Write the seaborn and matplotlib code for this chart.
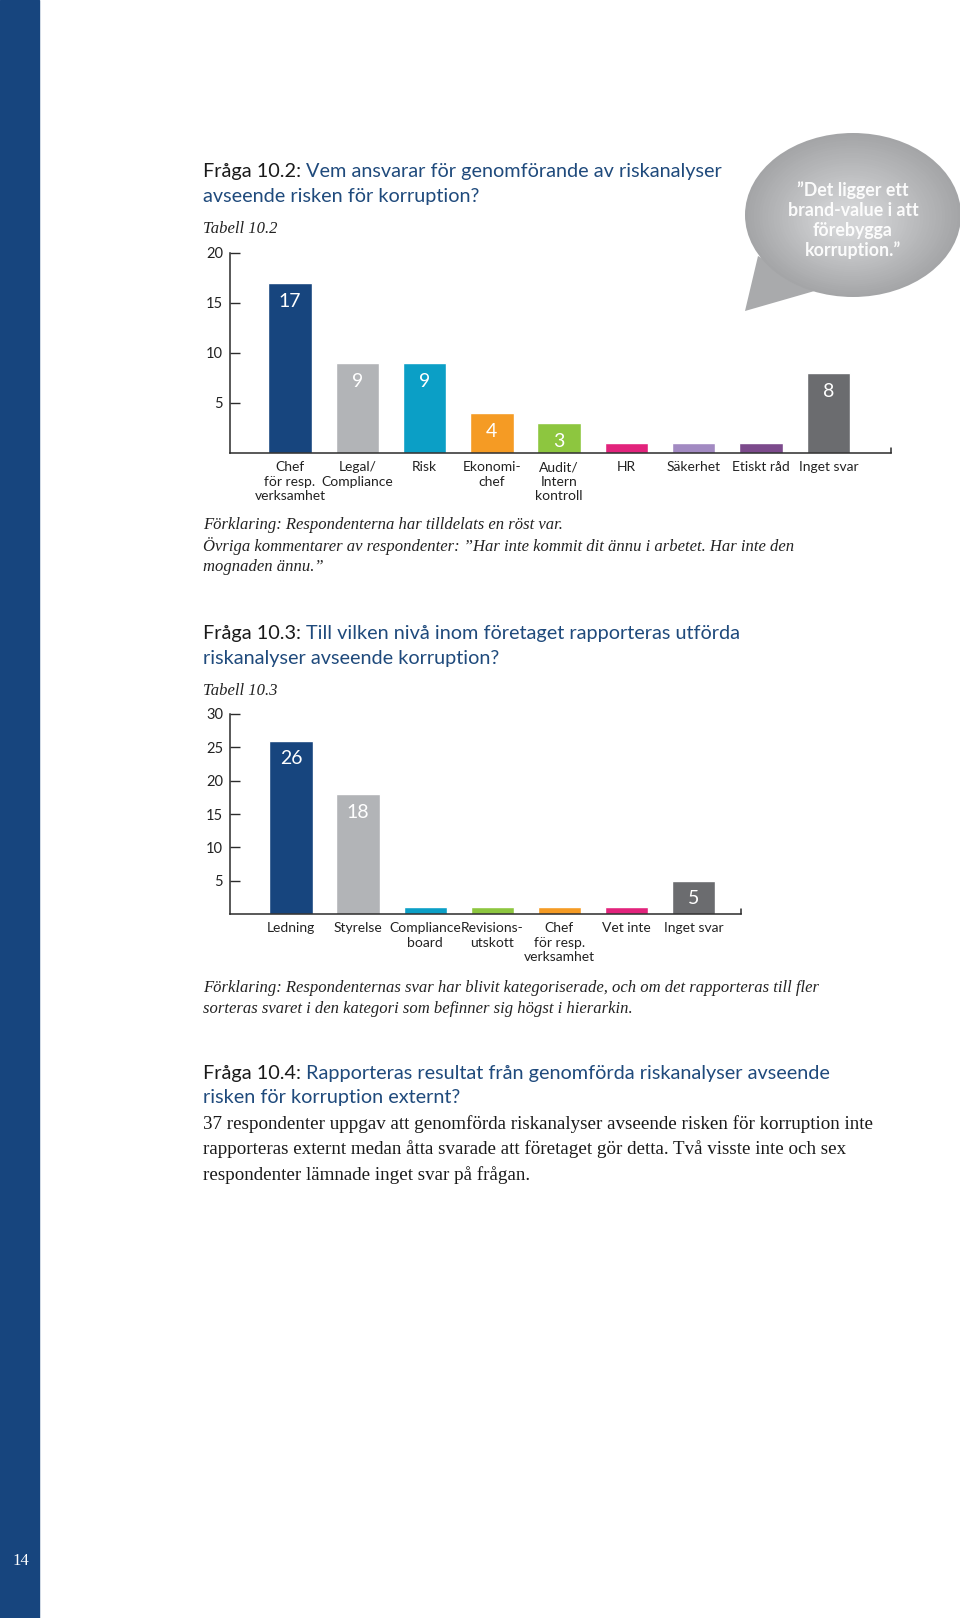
import matplotlib
matplotlib.use("Agg")
import matplotlib.pyplot as plt
import seaborn as sns
import pandas as pd
from matplotlib.patches import Ellipse, Polygon, Rectangle
from matplotlib.colors import to_rgb

# --------------------
# Data
# --------------------
q2_labels = ["Chef\nför resp.\nverksamhet", "Legal/\nCompliance", "Risk", "Ekonomi-\nchef",
             "Audit/\nIntern\nkontroll", "HR", "Säkerhet", "Etiskt råd", "Inget svar"]
q2_values = [17, 9, 9, 4, 3, 1, 1, 1, 8]
q2_colors = ["#17457e", "#b2b4b7", "#0b9fc6", "#f59b24", "#8dc63f",
             "#e2237c", "#a28ac2", "#7c4a8c", "#6b6c6f"]
q2_yticks = [5, 10, 15, 20]

q3_labels = ["Ledning", "Styrelse", "Compliance\nboard", "Revisions-\nutskott",
             "Chef\nför resp.\nverksamhet", "Vet inte", "Inget svar"]
q3_values = [26, 18, 1, 1, 1, 1, 5]
q3_colors = ["#17457e", "#b2b4b7", "#0b9fc6", "#8dc63f", "#f59b24", "#e2237c", "#6b6c6f"]
q3_yticks = [5, 10, 15, 20, 25, 30]

BLUE_TXT = "#1f4a7c"
SANS = "Lato"
SERIF = "Liberation Serif"
TITLE_FS = 14.3

sns.set_style("white")
plt.rcParams["font.family"] = [SANS, "DejaVu Sans"]

W, H = 960, 1618
fig = plt.figure(figsize=(W / 100, H / 100), dpi=100)
fig.patch.set_facecolor("white")

# page layer in pixel coordinates
page = fig.add_axes([0, 0, 1, 1])
page.set_xlim(0, W)
page.set_ylim(H, 0)
page.axis("off")
page.add_patch(Rectangle((0, 0), 39, H, color="#17457e", zorder=0))
page.text(12, 1561, "14", color="white", fontsize=12, family=SERIF, va="center", ha="left")

renderer = fig.canvas.get_renderer()


def two_tone(x, y, head, rest, size=TITLE_FS):
    t = page.text(x, y, head, color="#1a1a1a", fontsize=size, va="center", ha="left")
    bb = t.get_window_extent(renderer=renderer)
    page.text(x + bb.width, y, rest, color=BLUE_TXT, fontsize=size, va="center", ha="left")


def italic(y, s):
    page.text(LX, y, s, family=SERIF, style="italic", fontsize=12, va="center", color="#222222")


LX = 203
two_tone(LX, 171, "Fråga 10.2: ", "Vem ansvarar för genomförande av riskanalyser")
page.text(LX, 196, "avseende risken för korruption?", color=BLUE_TXT, fontsize=TITLE_FS, va="center")
italic(229, "Tabell 10.2")

italic(525, "Förklaring: Respondenterna har tilldelats en röst var.")
italic(546, "Övriga kommentarer av respondenter: ”Har inte kommit dit ännu i arbetet. Har inte den")
italic(567, "mognaden ännu.”")

two_tone(LX, 633, "Fråga 10.3: ", "Till vilken nivå inom företaget rapporteras utförda")
page.text(LX, 658, "riskanalyser avseende korruption?", color=BLUE_TXT, fontsize=TITLE_FS, va="center")
italic(691, "Tabell 10.3")

italic(988, "Förklaring: Respondenternas svar har blivit kategoriserade, och om det rapporteras till fler")
italic(1009, "sorteras svaret i den kategori som befinner sig högst i hierarkin.")

two_tone(LX, 1073, "Fråga 10.4: ", "Rapporteras resultat från genomförda riskanalyser avseende")
page.text(LX, 1098, "risken för korruption externt?", color=BLUE_TXT, fontsize=TITLE_FS, va="center")
body = ["37 respondenter uppgav att genomförda riskanalyser avseende risken för korruption inte",
        "rapporteras externt medan åtta svarade att företaget gör detta. Två visste inte och sex",
        "respondenter lämnade inget svar på frågan."]
for i, line in enumerate(body):
    page.text(LX, 1124 + i * 25.5, line, family=SERIF, fontsize=13.7, va="center", color="#1a1a1a")

# speech bubble with a soft radial shade
outer, inner = to_rgb("#a4a5a7"), to_rgb("#d2d3d5")
page.add_patch(Polygon([(758, 256), (818, 290), (745, 311)], closed=True,
                       color="#a9aaac", zorder=1, lw=0))
n = 30
for k in range(n):
    f = k / (n - 1)
    c = tuple(o + (i - o) * f for o, i in zip(outer, inner))
    page.add_patch(Ellipse((853 - 4 * f, 215 + 6 * f), 216 * (1 - 0.8 * f), 164 * (1 - 0.8 * f),
                           color=c, zorder=2 + k * 0.01, lw=0))
bubble = ["”Det ligger ett", "brand-value i att", "förebygga", "korruption.”"]
for i, line in enumerate(bubble):
    page.text(853, 190 + i * 20, line, color="white", fontsize=12.8, fontweight="bold",
              ha="center", va="center", zorder=10, alpha=0.95)


def bar_chart(rect, labels, values, colors, yticks, ymax, xlim):
    ax = fig.add_axes(rect)
    df = pd.DataFrame({"cat": labels, "val": values})
    sns.barplot(data=df, x="cat", y="val", hue="cat", palette=colors, legend=False,
                width=0.645, saturation=1, ax=ax)
    ax.set_xlim(*xlim)
    ax.set_ylim(0, ymax)
    ax.set_yticks(yticks)
    ax.set_xlabel("")
    ax.set_ylabel("")
    ax.patch.set_alpha(0)
    for s in ["top", "right"]:
        ax.spines[s].set_visible(False)
    for s in ["left", "bottom"]:
        ax.spines[s].set_color("#2b2b2b")
        ax.spines[s].set_linewidth(1.1)
    ax.tick_params(axis="y", left=True, direction="in", length=7, width=1, color="#2b2b2b",
                   labelsize=10.5, pad=5, labelcolor="#222222")
    ax.tick_params(axis="x", bottom=False, length=0, labelsize=10, pad=6, labelcolor="#222222")
    for lab in ax.get_xticklabels():
        lab.set_linespacing(1.25)
    # small end mark on the baseline
    ax.plot([1, 1], [0, 0.025], transform=ax.transAxes, color="#2b2b2b", lw=1.1, clip_on=False)
    for i, v in enumerate(values):
        if v >= 3:
            ax.annotate(str(v), (i, v), xytext=(0, -13), textcoords="offset points",
                        ha="center", va="center", color="white", fontsize=14)
    return ax


bar_chart([230 / W, 1 - 453 / H, 661 / W, 200 / H], q2_labels, q2_values, q2_colors,
          q2_yticks, 20, (-0.89, 8.93))
bar_chart([230 / W, 1 - 914 / H, 511 / W, 200 / H], q3_labels, q3_values, q3_colors,
          q3_yticks, 30, (-0.91, 6.71))

fig.savefig("out.png", dpi=100)
